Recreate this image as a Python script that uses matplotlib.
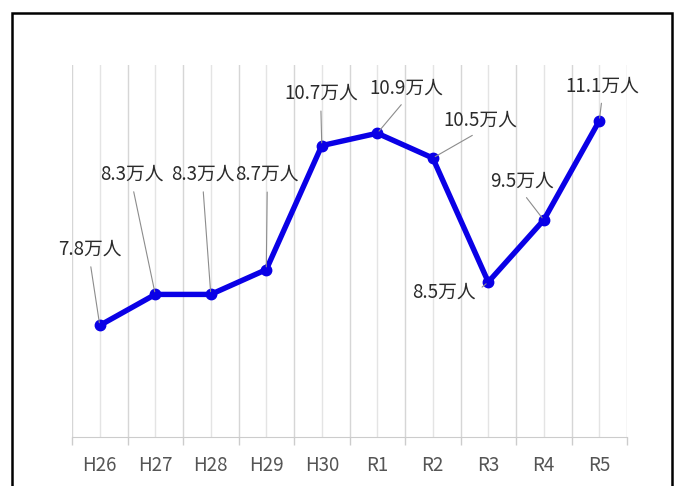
import matplotlib
matplotlib.use("Agg")
from matplotlib import pyplot as plt
from matplotlib.patches import Rectangle

plt.rcParams['font.family'] = ['Noto Sans CJK JP', 'DejaVu Sans']

# data
years = ['H26', 'H27', 'H28', 'H29', 'H30', 'R1', 'R2', 'R3', 'R4', 'R5']
visitors = [7.8, 8.3, 8.3, 8.7, 10.7, 10.9, 10.5, 8.5, 9.5, 11.1]
labels = ['7.8万人', '8.3万人', '8.3万人', '8.7万人', '10.7万人',
          '10.9万人', '10.5万人', '8.5万人', '9.5万人', '11.1万人']

# label offsets from each point, in pixels (right, up)
label_offsets = [(-10, 76), (-23, 120), (-8, 120), (1, 95), (-1, 52),
                 (29, 45), (48, 38), (-44, -10), (-22, 39), (3, 35)]

blue = '#0a00e6'
grid_col = '#d6d6d6'

fig = plt.figure(figsize=(6.84, 4.86), dpi=100)
ax = fig.add_axes([0.1053, 0.1008, 0.8114, 0.7654])

x = list(range(len(years)))
ax.plot(x, visitors, color=blue, lw=3.9, marker='o', ms=7.5, zorder=3,
        solid_capstyle='round', solid_joinstyle='round')

# vertical gridlines at centers and boundaries
for i in x:
    ax.axvline(i, color='#e4e4e4', lw=1, zorder=0)
for i in range(len(years) + 1):
    ax.axvline(i - 0.5, color=grid_col, lw=1, zorder=0)

ax.set_xlim(-0.5, len(years) - 0.5)
ax.set_ylim(6, 12)
ax.set_yticks([])
ax.set_xticks(x)
ax.set_xticklabels(years, fontsize=13.5, color='#555555')
ax.tick_params(axis='x', which='major', length=0, pad=13)
ax.set_xticks([i - 0.5 for i in range(len(years) + 1)], minor=True)
ax.tick_params(axis='x', which='minor', length=6, color='#cccccc', width=1)
for s in ['top', 'left', 'right']:
    ax.spines[s].set_visible(False)
ax.spines['bottom'].set_color('#cccccc')

for i, (v, txt, off) in enumerate(zip(visitors, labels, label_offsets)):
    dx, dy = off[0] * 0.72, off[1] * 0.72
    relpos = (1.0, 0.5) if dx < -20 and dy < 0 else (0.5, 0.0)
    ax.annotate(txt, xy=(i, v), xytext=(dx, dy), textcoords='offset points',
                ha='center', va='center', fontsize=13.5, color='#2b2b2b',
                arrowprops=dict(arrowstyle='-', color='#8c8c8c', lw=0.8,
                                relpos=relpos, shrinkA=3, shrinkB=2),
                zorder=4)

# outer frame
fig.patches.append(Rectangle((12 / 684, -0.05), 660 / 684, 1.05 - 13 / 486,
                             transform=fig.transFigure, fill=False,
                             edgecolor='black', lw=1.8))

fig.savefig('out.png', dpi=100)
